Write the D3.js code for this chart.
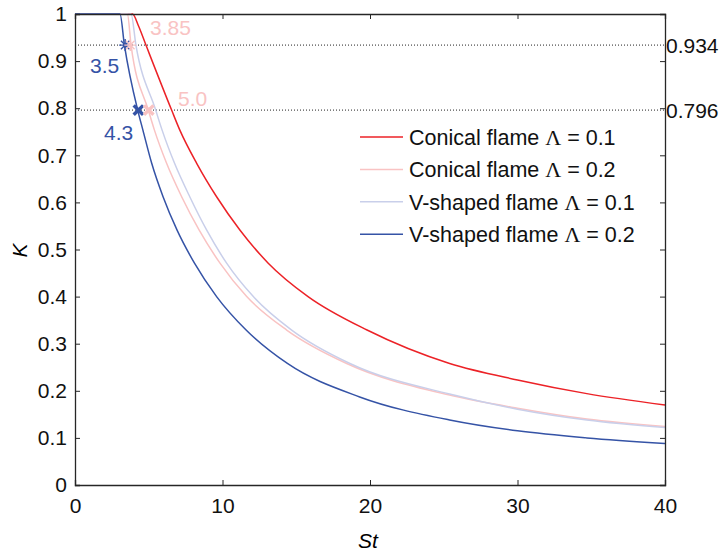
<!DOCTYPE html>
<html>
<head>
<meta charset="utf-8">
<script src="https://cdn.jsdelivr.net/npm/d3@7"></script>
<style>
  body { margin: 0; background: #fff; }
  text { font-family: "Liberation Sans", Arial, sans-serif; }
</style>
</head>
<body>
<div id="chart"></div>
<script>
// St, K pairs
const conical01 = [[0,1],[3.9,1],[4.3,0.975],[4.81,0.934],[6.55,0.796],[7.1,0.754],[8.25,0.683],[9.6,0.612],[11.19,0.541],[13.1,0.471],[15.8,0.400],[19.8,0.329],[25.4,0.258],[30,0.223],[34.7,0.194],[40,0.170]];
const conical02 = [[0,1],[3.55,1],[3.8,0.934],[4.97,0.796],[5.38,0.754],[6.21,0.683],[7.23,0.612],[8.42,0.541],[9.83,0.471],[11.64,0.400],[14.35,0.329],[18.42,0.258],[25.4,0.191],[30,0.163],[34.7,0.140],[40,0.124]];
const vshaped01 = [[0,1],[3.8,1],[4.13,0.934],[5.47,0.796],[5.9,0.754],[6.75,0.683],[7.78,0.612],[8.93,0.541],[10.28,0.471],[12.09,0.400],[14.69,0.329],[18.64,0.258],[25.4,0.193],[30,0.161],[34.7,0.138],[40,0.122]];
const vshaped02 = [[0,1],[3.05,1],[3.35,0.934],[4.25,0.796],[4.6,0.754],[5.2,0.683],[5.97,0.612],[6.92,0.541],[8.1,0.471],[9.6,0.400],[11.6,0.329],[14.4,0.258],[19.3,0.187],[25.4,0.138],[30,0.115],[34.7,0.100],[40,0.088]];

const seriesNames = ["Conical flame", "Conical flame", "V-shaped flame", "V-shaped flame"];
const seriesLambda = ["0.1", "0.2", "0.1", "0.2"];
const seriesColors = ["#ec2227", "#f9c3c3", "#c9cfea", "#3553a6"];

const refLevels = [0.934, 0.796];
// markers: [St, K, series index, symbol]
const markers = [[3.4, 0.934, 3, "star"], [3.75, 0.934, 1, "star"], [4.3, 0.796, 3, "x"], [5.0, 0.796, 1, "x"]];
const markerLabels = [["3.5", 3], ["3.85", 1], ["4.3", 3], ["5.0", 1]];

const xTicks = [0, 10, 20, 30, 40];
const yTicks = [0, 0.1, 0.2, 0.3, 0.4, 0.5, 0.6, 0.7, 0.8, 0.9, 1];

const width = 723, height = 553;
const margin = {left: 75, right: 58, top: 14, bottom: 68};
const iw = width - margin.left - margin.right;
const ih = height - margin.top - margin.bottom;

const x = d3.scaleLinear().domain([0, 40]).range([0, iw]);
const y = d3.scaleLinear().domain([0, 1]).range([ih, 0]);

const svg = d3.select("#chart").append("svg")
  .attr("width", width).attr("height", height);
const g = svg.append("g").attr("transform", `translate(${margin.left},${margin.top})`);

// reference levels (dotted)
g.selectAll(".ref").data(refLevels).enter().append("line")
  .attr("x1", 0).attr("x2", iw)
  .attr("y1", d => y(d)).attr("y2", d => y(d))
  .attr("stroke", "#222").attr("stroke-width", 1)
  .attr("stroke-dasharray", "1 2");

// curves, plotted in legend order
const line = d3.line()
  .x(d => x(d[0])).y(d => y(d[1]))
  .curve(d3.curveMonotoneX);
const allSeries = [conical01, conical02, vshaped01, vshaped02];
allSeries.forEach((s, i) => {
  g.append("path").datum(s)
    .attr("d", line)
    .attr("fill", "none")
    .attr("stroke", seriesColors[i])
    .attr("stroke-width", 1.5);
});

// matlab-like '*' marker: plus + times
const starType = {
  draw(ctx, size) {
    const r = Math.sqrt(size) / 2, k = r * Math.SQRT1_2;
    ctx.moveTo(-r, 0); ctx.lineTo(r, 0);
    ctx.moveTo(0, -r); ctx.lineTo(0, r);
    ctx.moveTo(-k, -k); ctx.lineTo(k, k);
    ctx.moveTo(-k, k); ctx.lineTo(k, -k);
  }
};
const crossType = {
  draw(ctx, size) {
    const k = Math.sqrt(size) / 2;
    ctx.moveTo(-k, -k); ctx.lineTo(k, k);
    ctx.moveTo(-k, k); ctx.lineTo(k, -k);
  }
};
const star = d3.symbol().type(starType).size(144);
const cross = d3.symbol().type(crossType).size(90);
g.selectAll(".mk").data(markers).enter().append("path")
  .attr("transform", d => `translate(${x(d[0])},${y(d[1])})`)
  .attr("d", d => d[3] === "star" ? star() : cross())
  .attr("fill", "none")
  .attr("stroke", d => seriesColors[d[2]])
  .attr("stroke-width", d => d[3] === "star" ? 1.4 : 3.4);

// marker labels (page coords)
const labelPos = [[90, 73], [150, 35], [104, 140], [178, 106]];
svg.selectAll(".ml").data(markerLabels).enter().append("text")
  .attr("x", (d, i) => labelPos[i][0])
  .attr("y", (d, i) => labelPos[i][1])
  .attr("font-size", 21)
  .attr("fill", d => seriesColors[d[1]])
  .text(d => d[0]);

// axes, ticks inward
const fmt = d3.format("~g");
const axL = g.append("g").call(d3.axisLeft(y).tickValues(yTicks).tickFormat(fmt).tickSize(-5).tickPadding(8));
const axB = g.append("g").attr("transform", `translate(0,${ih})`)
  .call(d3.axisBottom(x).tickValues(xTicks).tickFormat(fmt).tickSize(-5).tickPadding(13));
const axR = g.append("g").attr("transform", `translate(${iw},0)`)
  .call(d3.axisRight(y).tickValues(yTicks).tickFormat("").tickSize(-5));
const axT = g.append("g")
  .call(d3.axisTop(x).tickValues(xTicks).tickFormat("").tickSize(-5));
[axL, axB, axR, axT].forEach(a => {
  a.select(".domain").attr("stroke", "#262626").attr("stroke-width", 1.3);
  a.selectAll(".tick line").attr("stroke", "#262626").attr("stroke-width", 1);
  a.selectAll(".tick text").attr("font-size", 21).attr("fill", "#111")
    .style("font-family", "'Liberation Sans', Arial, sans-serif");
});
axB.selectAll(".tick text").attr("dy", "0.71em");

// right labels for reference levels
g.selectAll(".rl").data(refLevels).enter().append("text")
  .attr("x", iw + 1).attr("y", d => y(d))
  .attr("dy", "0.36em")
  .attr("font-size", 21).attr("fill", "#111")
  .text(d => d3.format(".3f")(d));

// axis titles
svg.append("text")
  .attr("x", margin.left + iw / 2 - 2).attr("y", 548)
  .attr("text-anchor", "middle").attr("font-size", 21)
  .attr("font-style", "italic").text("St");
svg.append("text")
  .attr("transform", `translate(27,${margin.top + ih / 2 + 1}) rotate(-90)`)
  .attr("text-anchor", "middle").attr("font-size", 21)
  .attr("font-style", "italic").text("K");

// legend
const leg = svg.append("g").attr("transform", "translate(360,137)");
const rows = leg.selectAll(".lr").data(seriesNames).enter().append("g")
  .attr("transform", (d, i) => `translate(0,${i * 32.4})`);
rows.append("line").attr("x1", 0).attr("x2", 43).attr("y1", 0).attr("y2", 0)
  .attr("stroke", (d, i) => seriesColors[i]).attr("stroke-width", 1.5);
const lt = rows.append("text").attr("x", 49).attr("dy", "0.36em")
  .attr("font-size", 21.5).attr("fill", "#111");
lt.append("tspan").text(d => d + " ");
lt.append("tspan").style("font-family", "'Liberation Serif', 'DejaVu Serif', serif").attr("font-size", 22).text("\u039B");
lt.append("tspan").text((d, i) => " = " + seriesLambda[i]);
</script>
</body>
</html>
